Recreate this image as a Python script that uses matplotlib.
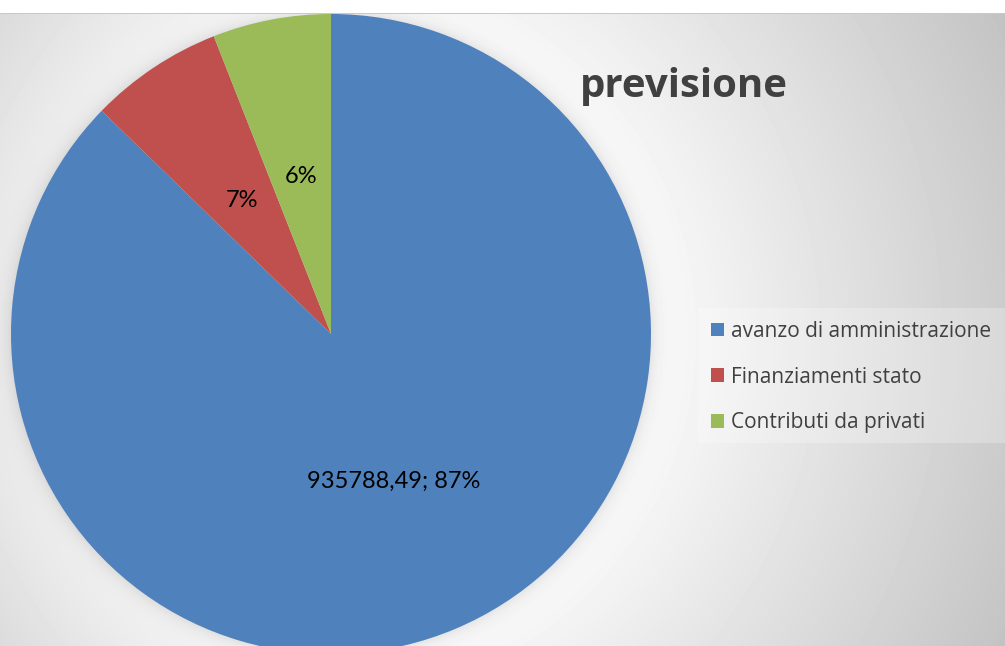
import numpy as np
import matplotlib.pyplot as plt
from matplotlib.patches import Rectangle

# dati
categorie = ["avanzo di amministrazione", "Finanziamenti stato", "Contributi da privati"]
valori = [935788.49, 72300.00, 64000.00]
colori = ["#4F81BD", "#C0504D", "#9BBB59"]
titolo = "previsione"

W, H = 1005, 646
fig = plt.figure(figsize=(W / 100, H / 100), dpi=100)
ax = fig.add_axes([0, 0, 1, 1])
ax.set_xlim(0, W)
ax.set_ylim(0, H)
ax.axis("off")

# centro e raggio della torta (pixel, y dall'alto)
cx, cy_top, R = 331, 334, 320
cy = H - cy_top

# sfondo sfumato con ombra attorno alla torta
rows, cols = np.mgrid[0:H, 0:W]
px = cols + 0.5
py = rows + 0.5
dist = np.hypot(px - cx, py - cy_top)
d_out = np.clip(dist - R, 0, None)
bg = 250 - 0.13 * d_out - 13 * np.clip((cx - px) / cx, 0, 1)
bg = bg - 22 * np.exp(-d_out / 8.0)
bg[rows < 13] = 255
bg[(rows >= 13) & (rows < 14)] = 200
bg = np.clip(bg, 0, 255)
ax.imshow(bg, cmap="gray", vmin=0, vmax=255, extent=(0, W, 0, H),
          origin="upper", zorder=0, interpolation="bilinear")

wedges, texts, autotexts = ax.pie(
    valori, colors=colori, startangle=90, counterclock=False,
    radius=R, center=(cx, cy), autopct="%1.0f%%", pctdistance=0.5,
    frame=True, wedgeprops=dict(linewidth=0),
    textprops=dict(fontsize=17, family="Lato", color="black"))
ax.set_xlim(0, W)
ax.set_ylim(0, H)
ax.axis("off")
for w in wedges:
    w.set_zorder(2)

totale = sum(valori)
for i, t in enumerate(autotexts):
    pct = valori[i] / totale * 100
    if i == 0:
        t.set_text(f"{valori[i]:.2f}".replace(".", ",") + f"; {pct:.0f}%")
    else:
        t.set_text(f"{pct:.0f}%")
    t.set_zorder(3)

ax.text(684, H - 97, titolo, fontsize=29, fontweight="bold", family="Open Sans",
        color="#404040", ha="center", va="baseline", zorder=3)

# riquadro legenda
ax.add_patch(Rectangle((698, H - 443), W - 698, 135, facecolor="white",
                       alpha=0.25, edgecolor="none", zorder=1))
leg = ax.legend(wedges, categorie, loc="upper left",
                bbox_to_anchor=(711, H - 321), bbox_transform=ax.transData,
                frameon=False, prop=dict(family="Open Sans", size=15),
                handlelength=0.63, handleheight=0.63, handletextpad=0.33,
                labelspacing=1.18, borderpad=0, borderaxespad=0)
for t in leg.get_texts():
    t.set_color("#404040")

fig.savefig("out.png", dpi=100)
